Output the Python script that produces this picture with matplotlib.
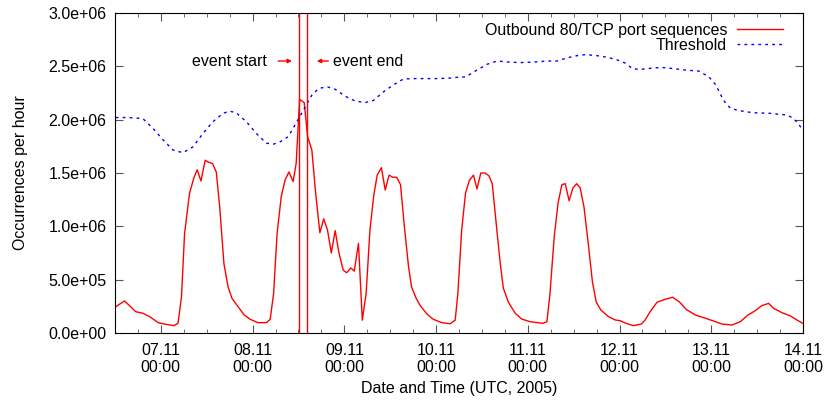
import matplotlib
matplotlib.use("Agg")
import matplotlib.pyplot as plt
import matplotlib.dates as mdates
import pandas as pd

plt.rcParams['font.family'] = ['Liberation Sans', 'DejaVu Sans']
plt.rcParams['font.size'] = 11.5

start = pd.Timestamp('2005-11-06 12:00')

# hours since 06.11 12:00 and hourly counts
traffic_h = [0.2, 2.5, 3.7, 5.4, 7.3, 9.1, 11.3, 13.4, 15.4, 16.5, 17.4, 18.2, 19.5, 20.6, 21.5,
             22.5, 23.6, 24.5, 25.5, 26.5, 27.4, 28.5, 29.6, 30.6, 32.2, 33.8, 35.4, 37.4, 39.6,
             40.6, 41.5, 42.4, 43.5, 44.5, 45.5, 46.6, 47.4, 48.3, 49.5, 50.4, 51.5, 52.5, 53.6,
             54.6, 55.6, 56.6, 57.6, 58.6, 59.7, 60.6, 61.7, 62.6, 63.7, 64.7, 65.7, 66.7, 67.7,
             68.6, 69.7, 70.7, 71.7, 72.7, 73.7, 74.7, 75.7, 76.8, 77.6, 78.8, 79.8, 81.6, 83.3,
             85.5, 87.7, 89.0, 89.7, 90.7, 91.7, 92.7, 93.8, 94.7, 95.7, 96.8, 97.8, 98.7, 99.9,
             100.8, 101.6, 102.9, 104.7, 106.4, 108.6, 111.9, 113.0, 113.8, 114.9, 115.9, 116.9,
             117.8, 118.8, 119.8, 120.8, 121.7, 122.7, 123.9, 124.9, 125.9, 127.1, 129.1, 130.9,
             132.2, 133.7, 135.6, 137.7, 138.7, 140.0, 141.8, 143.9, 145.9, 147.7, 149.4, 151.8,
             154.0, 156.4, 158.8, 161.4, 163.6, 165.6, 167.5, 169.2, 171.0, 172.3, 174.5, 176.7,
             178.4, 179.9]
traffic = [0.247, 0.30, 0.26, 0.20, 0.185, 0.153, 0.097, 0.081, 0.069, 0.091, 0.34, 0.93, 1.31, 1.45, 1.53,
           1.425, 1.62, 1.60, 1.59, 1.51, 1.18, 0.65, 0.43, 0.325, 0.247, 0.169, 0.128, 0.097, 0.097,
           0.128, 0.37, 0.93, 1.28, 1.434, 1.51, 1.42, 1.59, 2.19, 2.16, 1.84, 1.715, 1.31, 0.94,
           1.07, 0.965, 0.75, 0.96, 0.75, 0.59, 0.565, 0.61, 0.58, 0.84, 0.12, 0.37, 0.965, 1.29,
           1.48, 1.55, 1.34, 1.48, 1.46, 1.46, 1.39, 1.0, 0.62, 0.43, 0.325, 0.26, 0.178, 0.128,
           0.097, 0.087, 0.12, 0.37, 0.965, 1.31, 1.43, 1.48, 1.35, 1.50, 1.50, 1.475, 1.40, 0.965,
           0.65, 0.42, 0.29, 0.185, 0.131, 0.106, 0.091, 0.106, 0.37, 0.90, 1.215, 1.39,
           1.40, 1.24, 1.36, 1.40, 1.36, 1.18, 0.81, 0.48, 0.29, 0.216, 0.153, 0.122,
           0.115, 0.091, 0.069, 0.084, 0.122, 0.20, 0.288, 0.316, 0.335, 0.29, 0.222, 0.169,
           0.144, 0.115, 0.084, 0.075, 0.106, 0.169, 0.209, 0.256, 0.278, 0.231, 0.19, 0.16,
           0.122, 0.091]

threshold_h = [0.2, 3.4, 7.3, 9.9, 12.6, 15.2, 17.8, 20.4, 23.0, 25.6, 28.3, 30.0, 31.7, 34.4, 37.0,
               39.6, 41.4, 43.1, 45.3, 47.1, 49.3, 51.5, 53.2, 55.4, 57.6, 60.2, 62.8, 65.4, 67.6,
               70.2, 72.8, 75.4, 77.6, 81.1, 84.6, 87.7, 90.3, 91.7, 94.7, 97.4, 100.0, 103.0,
               106.1, 109.6, 113.1, 115.7, 118.3, 120.9, 123.1, 126.1, 128.8, 131.4, 133.5, 135.3,
               137.1, 139.7, 142.8, 145.8, 149.3, 152.8, 155.4, 157.2, 158.5, 159.8, 161.1, 163.3,
               166.8, 171.1, 175.5, 177.2, 178.6, 179.6]
threshold = [2.02, 2.02, 2.01, 1.92, 1.81, 1.715, 1.69, 1.745, 1.87, 1.98, 2.06, 2.08, 2.065, 1.98, 1.87,
             1.78, 1.77, 1.79, 1.84, 1.95, 2.09, 2.23, 2.29, 2.31, 2.285, 2.22, 2.175, 2.16, 2.18,
             2.26, 2.325, 2.38, 2.385, 2.385, 2.385, 2.39, 2.40, 2.40, 2.465, 2.52, 2.55, 2.54,
             2.535, 2.54, 2.55, 2.55, 2.58, 2.60, 2.61, 2.60, 2.585, 2.56, 2.53, 2.48,
             2.47, 2.48, 2.49, 2.48, 2.465, 2.455, 2.40, 2.325, 2.23, 2.15, 2.105, 2.085,
             2.065, 2.06, 2.045, 2.02, 1.97, 1.92]

event_start = pd.Timestamp('2005-11-08 12:10')
event_end = pd.Timestamp('2005-11-08 14:15')

t_traffic = start + pd.to_timedelta(traffic_h, unit='h')
t_thresh = start + pd.to_timedelta(threshold_h, unit='h')

fig = plt.figure(figsize=(8.26, 4.0), dpi=100)
ax = fig.add_axes([0.1392, 0.1675, 0.833, 0.80])

ax.plot(t_traffic, [v * 1e6 for v in traffic], color='#ff0000', lw=1,
        label='Outbound 80/TCP port sequences')
ax.plot(t_thresh, [v * 1e6 for v in threshold], color='#0000ff', lw=1,
        linestyle=(0, (2, 3)), label='Threshold')

ax.axvline(event_start, color='#ff0000', lw=1)
ax.axvline(event_end, color='#ff0000', lw=1)

h = pd.Timedelta(hours=1)
ax.annotate('', xy=(start + 46.3 * h, 2.55e6), xytext=(start + 42.7 * h, 2.55e6),
            arrowprops=dict(arrowstyle='-|>', color='#ff0000', lw=1, mutation_scale=6,
                            shrinkA=0, shrinkB=0))
ax.annotate('', xy=(start + 52.8 * h, 2.55e6), xytext=(start + 55.8 * h, 2.55e6),
            arrowprops=dict(arrowstyle='-|>', color='#ff0000', lw=1, mutation_scale=6,
                            shrinkA=0, shrinkB=0))
ax.text(start + 39.8 * h, 2.55e6, 'event start', ha='right', va='center')
ax.text(start + 57.1 * h, 2.55e6, 'event end', ha='left', va='center')

ax.set_xlim(start, pd.Timestamp('2005-11-14 00:00'))
ax.set_ylim(0, 3.0e6)
ax.set_yticks([i * 0.5e6 for i in range(7)])
ax.yaxis.set_major_formatter(plt.FuncFormatter(lambda v, p: f'{v:.1e}'))

ax.xaxis.set_major_locator(mdates.DayLocator())
ax.xaxis.set_minor_locator(mdates.HourLocator(byhour=[0, 6, 12, 18]))
ax.xaxis.set_major_formatter(mdates.DateFormatter('%d.%m\n%H:%M'))

ax.tick_params(which='both', direction='in', top=True, right=True, color='#555555')
ax.tick_params(which='major', length=6, pad=7)
ax.tick_params(which='minor', length=3)
ax.tick_params(axis='y', which='major', length=6, pad=6)

ax.set_xlabel('Date and Time (UTC, 2005)', labelpad=4)
ax.set_ylabel('Occurrences per hour', labelpad=15)

ax.legend(loc='upper right', bbox_to_anchor=(0.985, 1.0), frameon=False, markerfirst=False,
          handlelength=2.9, handletextpad=0.6, labelspacing=0.0, borderaxespad=0.2)

fig.savefig('out.png', dpi=100)
